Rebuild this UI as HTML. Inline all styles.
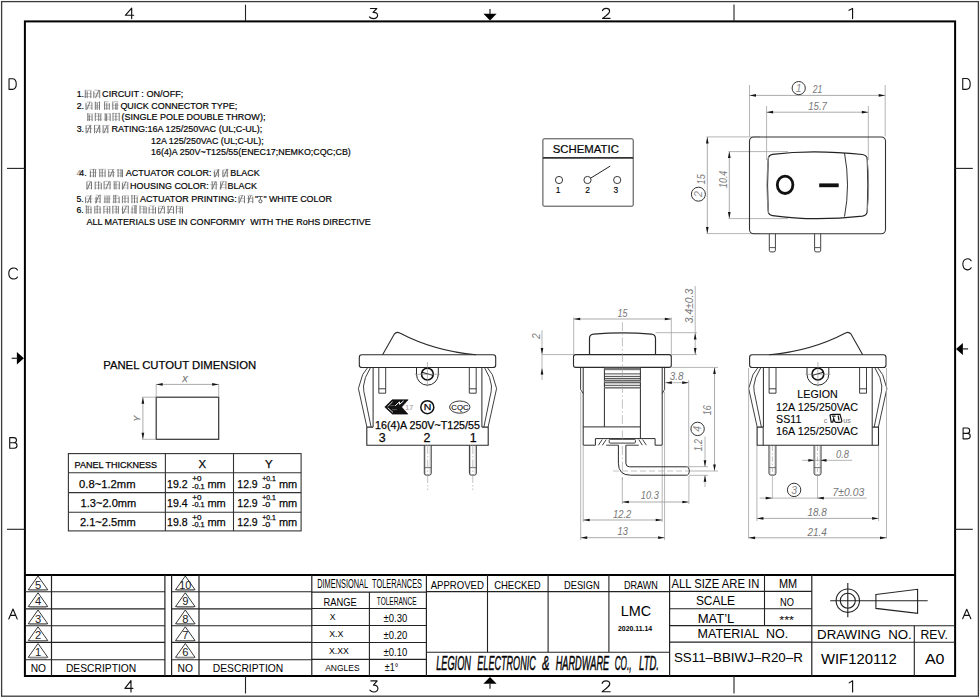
<!DOCTYPE html>
<html><head><meta charset="utf-8"><title>SS11 rocker switch drawing</title>
<style>
html,body{margin:0;padding:0;background:#fff;overflow:hidden;}
svg{display:block;}
text{font-family:"Liberation Sans",sans-serif;}
</style></head><body>
<svg width="980" height="698" viewBox="0 0 980 698">
<rect x="0" y="0" width="980" height="698" fill="#fff"/>
<rect x="1.6" y="1.6" width="976.8" height="694.6" rx="0" stroke="#3a3a3a" stroke-width="1.3" fill="none" />
<rect x="24.9" y="21.4" width="930.2" height="654.6" rx="0" stroke="#000" stroke-width="2.0" fill="none" />
<line x1="245.5" y1="4.6" x2="245.5" y2="21.4" stroke="#222" stroke-width="1.1" />
<line x1="245.5" y1="676" x2="245.5" y2="693.5" stroke="#222" stroke-width="1.1" />
<line x1="734.0" y1="4.6" x2="734.0" y2="21.4" stroke="#222" stroke-width="1.1" />
<line x1="734.0" y1="676" x2="734.0" y2="693.5" stroke="#222" stroke-width="1.1" />
<line x1="7" y1="168.4" x2="24.9" y2="168.4" stroke="#222" stroke-width="1.1" />
<line x1="955.1" y1="168.4" x2="972.8" y2="168.4" stroke="#222" stroke-width="1.1" />
<line x1="7" y1="529.3" x2="24.9" y2="529.3" stroke="#222" stroke-width="1.1" />
<line x1="955.1" y1="529.3" x2="972.8" y2="529.3" stroke="#222" stroke-width="1.1" />
<path d="M483.4 13.7H496.6L490 20.6Z" fill="#000"/>
<line x1="490" y1="9" x2="490" y2="14" stroke="#333" stroke-width="1.3" />
<path d="M483.4 683.8H496.6L490 677.1Z" fill="#000"/>
<line x1="490" y1="683" x2="490" y2="688.7" stroke="#333" stroke-width="1.3" />
<path d="M16.9 352H16.9L23.9 358.3L16.9 364.6Z" fill="#000"/>
<line x1="11.7" y1="358.3" x2="17.5" y2="358.3" stroke="#333" stroke-width="1.3" />
<path d="M962.9 342.9L956 348.9L962.9 354.9Z" fill="#000"/>
<line x1="962.5" y1="348.9" x2="968.1" y2="348.9" stroke="#333" stroke-width="1.3" />
<path d="M131.68 8.20L125.30 15.27H133.70M131.68 8.20V18.60" stroke="#111" stroke-width="1.15" fill="none" stroke-linecap="round" stroke-linejoin="round"/>
<path d="M370.43 8.51H376.80L373.01 12.36C379.03 11.74 379.03 18.60 373.53 18.60Q370.69 18.60 369.40 16.94" stroke="#111" stroke-width="1.15" fill="none" stroke-linecap="round" stroke-linejoin="round"/>
<path d="M602.53 10.70C603.22 7.78 609.46 7.47 609.62 11.11C609.69 12.88 608.31 14.02 602.53 18.39H610.00" stroke="#111" stroke-width="1.15" fill="none" stroke-linecap="round" stroke-linejoin="round"/>
<path d="M849.00 10.28L852.57 8.41V18.60" stroke="#111" stroke-width="1.15" fill="none" stroke-linecap="round" stroke-linejoin="round"/>
<path d="M130.98 680.60L124.90 688.35H132.90M130.98 680.60V692.00" stroke="#111" stroke-width="1.15" fill="none" stroke-linecap="round" stroke-linejoin="round"/>
<path d="M370.91 680.94H377.12L373.43 685.16C379.31 684.48 379.31 692.00 373.93 692.00Q371.16 692.00 369.90 690.18" stroke="#111" stroke-width="1.15" fill="none" stroke-linecap="round" stroke-linejoin="round"/>
<path d="M602.15 683.34C602.90 680.14 609.62 679.80 609.78 683.79C609.87 685.73 608.37 686.98 602.15 691.77H610.20" stroke="#111" stroke-width="1.15" fill="none" stroke-linecap="round" stroke-linejoin="round"/>
<path d="M849.20 682.88L852.60 680.83V692.00" stroke="#111" stroke-width="1.15" fill="none" stroke-linecap="round" stroke-linejoin="round"/>
<path d="M9.04 78.82V89.38H12.30C17.58 89.38 17.58 78.82 12.30 78.82Z" stroke="#111" stroke-width="1.1" fill="none" stroke-linecap="round" stroke-linejoin="round"/>
<path d="M17.52 270.02C15.94 267.00 8.69 266.89 8.78 273.50C8.87 280.11 15.94 280.00 17.52 276.98" stroke="#111" stroke-width="1.1" fill="none" stroke-linecap="round" stroke-linejoin="round"/>
<path d="M9.71 437.62V448.18H14.22C17.91 448.18 17.91 442.79 14.22 442.79H9.71M13.81 442.79C17.34 442.79 17.34 437.62 13.81 437.62H9.71" stroke="#111" stroke-width="1.1" fill="none" stroke-linecap="round" stroke-linejoin="round"/>
<path d="M8.77 618.98L13.00 609.02L17.23 618.98M10.48 615.38H15.52" stroke="#111" stroke-width="1.1" fill="none" stroke-linecap="round" stroke-linejoin="round"/>
<path d="M962.75 78.53V89.37H966.12C971.58 89.37 971.58 78.53 966.12 78.53Z" stroke="#111" stroke-width="1.1" fill="none" stroke-linecap="round" stroke-linejoin="round"/>
<path d="M971.14 260.82C969.64 257.80 962.78 257.69 962.86 264.30C962.95 270.91 969.64 270.80 971.14 267.78" stroke="#111" stroke-width="1.1" fill="none" stroke-linecap="round" stroke-linejoin="round"/>
<path d="M963.10 428.03V438.87H967.50C971.10 438.87 971.10 433.34 967.50 433.34H963.10M967.10 433.34C970.54 433.34 970.54 428.03 967.10 428.03H963.10" stroke="#111" stroke-width="1.1" fill="none" stroke-linecap="round" stroke-linejoin="round"/>
<path d="M962.66 618.79L966.75 609.21L970.84 618.79M964.31 615.33H969.19" stroke="#111" stroke-width="1.1" fill="none" stroke-linecap="round" stroke-linejoin="round"/>
<text x="76.7" y="97.3" font-size="8.8" stroke="#111" stroke-width="0.2" >1.</text>
<path d="M84.8 90.3H91.7M85.2 93.7H91.5M84.0 96.6H91.6" stroke="#9a9a9a" stroke-width="0.6" fill="none" />
<path d="M85.3 90.3V98.1M87.2 91.3V98.1M90.8 90.9V98.1" stroke="#707070" stroke-width="0.95" fill="none" />
<path d="M94.2 90.2H99.4M93.5 93.7H99.2M94.1 96.1H99.5" stroke="#9a9a9a" stroke-width="0.6" fill="none" />
<path d="M93.8 91.3V98.1M98.8 90.2L95.5 98.1M99.7 90.0V98.1" stroke="#707070" stroke-width="0.95" fill="none" />
<text x="102.1" y="97.3" font-size="8.8" stroke="#111" stroke-width="0.2" textLength="81.2" lengthAdjust="spacingAndGlyphs" >CIRCUIT : ON/OFF;</text>
<text x="76.7" y="109" font-size="8.8" stroke="#111" stroke-width="0.2" >2.</text>
<path d="M86.8 102.0H91.6M85.9 105.7H91.5M86.7 108.0H91.7" stroke="#9a9a9a" stroke-width="0.6" fill="none" />
<path d="M86.0 102.8V109.8M90.0 101.9L86.7 109.8M91.9 102.5V109.8" stroke="#707070" stroke-width="0.95" fill="none" />
<path d="M94.9 102.5H99.9M94.9 105.7H99.9M94.9 107.8H99.9" stroke="#9a9a9a" stroke-width="0.6" fill="none" />
<path d="M95.3 101.7V109.8M97.2 102.9V109.8M99.5 101.5V109.8" stroke="#707070" stroke-width="0.95" fill="none" />
<path d="M104.0 101.7H108.7M103.7 105.1H109.8M104.3 108.3H108.8" stroke="#9a9a9a" stroke-width="0.6" fill="none" />
<path d="M104.6 101.8V109.8M106.8 102.9V109.8M109.3 103.2V109.8" stroke="#707070" stroke-width="0.95" fill="none" />
<path d="M112.1 101.7H118.3M111.7 105.2H119.2M112.9 108.2H118.2" stroke="#9a9a9a" stroke-width="0.6" fill="none" />
<path d="M112.8 102.2V109.8M115.8 103.2V109.8M117.1 102.6V109.8" stroke="#707070" stroke-width="0.95" fill="none" />
<text x="120.4" y="109" font-size="8.8" stroke="#111" stroke-width="0.2" textLength="116.9" lengthAdjust="spacingAndGlyphs" >QUICK CONNECTOR TYPE;</text>
<path d="M87.1 113.9H93.3M87.5 116.7H91.9M87.3 119.4H92.1" stroke="#9a9a9a" stroke-width="0.6" fill="none" />
<path d="M87.8 113.2V121.1M89.3 114.6V121.1M92.1 114.4V121.1" stroke="#707070" stroke-width="0.95" fill="none" />
<path d="M95.1 113.7H102.2M94.7 116.2H101.0M96.1 119.4H101.8" stroke="#9a9a9a" stroke-width="0.6" fill="none" />
<path d="M95.3 112.8V121.1M98.7 113.6V121.1M100.8 114.1V121.1" stroke="#707070" stroke-width="0.95" fill="none" />
<path d="M104.4 113.9H110.2M105.2 117.0H109.7M103.6 119.2H110.2" stroke="#9a9a9a" stroke-width="0.6" fill="none" />
<path d="M105.2 113.4V121.1M106.6 114.0V121.1M110.2 113.5V121.1" stroke="#707070" stroke-width="0.95" fill="none" />
<path d="M112.6 113.4H119.6M113.9 116.4H118.4M113.7 119.3H118.2" stroke="#9a9a9a" stroke-width="0.6" fill="none" />
<path d="M113.0 112.9V121.1M115.9 113.2V121.1M119.2 112.9V121.1" stroke="#707070" stroke-width="0.95" fill="none" />
<text x="121.4" y="120.3" font-size="8.8" stroke="#111" stroke-width="0.2" textLength="144" lengthAdjust="spacingAndGlyphs" >(SINGLE POLE DOUBLE THROW);</text>
<text x="76.7" y="132.4" font-size="8.8" stroke="#111" stroke-width="0.2" >3.</text>
<path d="M87.0 125.3H91.7M85.4 128.5H92.4M86.4 131.7H91.1" stroke="#9a9a9a" stroke-width="0.6" fill="none" />
<path d="M86.1 125.3V133.2M90.1 125.3L86.8 133.2M90.6 125.3V133.2" stroke="#707070" stroke-width="0.95" fill="none" />
<path d="M94.5 125.3H99.6M93.9 128.9H100.7M94.9 131.3H101.1" stroke="#9a9a9a" stroke-width="0.6" fill="none" />
<path d="M94.5 125.1V133.2M99.5 125.3L96.2 133.2M99.7 125.0V133.2" stroke="#707070" stroke-width="0.95" fill="none" />
<path d="M104.0 125.6H109.6M103.8 128.8H108.6M103.6 131.9H108.8" stroke="#9a9a9a" stroke-width="0.6" fill="none" />
<path d="M103.1 125.1V133.2M107.2 125.3L103.9 133.2M107.8 126.2V133.2" stroke="#707070" stroke-width="0.95" fill="none" />
<text x="111.6" y="132.4" font-size="8.8" stroke="#111" stroke-width="0.2" textLength="150.7" lengthAdjust="spacingAndGlyphs" >RATING:16A 125/250VAC (UL;C-UL);</text>
<text x="151.1" y="143.8" font-size="8.8" stroke="#111" stroke-width="0.2" textLength="112.5" lengthAdjust="spacingAndGlyphs" >12A 125/250VAC (UL;C-UL);</text>
<text x="151.1" y="154.8" font-size="8.8" stroke="#111" stroke-width="0.2" textLength="199.7" lengthAdjust="spacingAndGlyphs" >16(4)A 250V~T125/55(ENEC17;NEMKO;CQC;CB)</text>
<text x="76.4" y="176.4" font-size="8.8" stroke="#999" stroke-width="0.2" fill="#999" >4</text>
<text x="79.3" y="176.4" font-size="8.8" stroke="#111" stroke-width="0.2" >4.</text>
<path d="M89.5 169.4H96.6M90.0 172.5H96.6M89.4 176.0H95.8" stroke="#9a9a9a" stroke-width="0.6" fill="none" />
<path d="M90.4 170.5V177.2M93.4 168.9V177.2M95.4 169.4V177.2" stroke="#707070" stroke-width="0.95" fill="none" />
<path d="M98.3 169.3H106.1M99.4 172.8H105.3M99.5 175.8H105.4" stroke="#9a9a9a" stroke-width="0.6" fill="none" />
<path d="M99.8 169.3V177.2M102.2 169.1V177.2M105.1 170.1V177.2" stroke="#707070" stroke-width="0.95" fill="none" />
<path d="M107.4 169.5H114.4M108.6 172.5H115.0M108.8 175.1H114.6" stroke="#9a9a9a" stroke-width="0.6" fill="none" />
<path d="M108.7 170.3V177.2M113.1 169.3L109.8 177.2M113.3 170.8V177.2" stroke="#707070" stroke-width="0.95" fill="none" />
<path d="M116.6 170.0H122.8M117.7 173.1H122.7M117.2 175.8H123.0" stroke="#9a9a9a" stroke-width="0.6" fill="none" />
<path d="M118.1 169.0V177.2M121.0 169.2V177.2M122.5 169.7V177.2" stroke="#707070" stroke-width="0.95" fill="none" />
<text x="125.7" y="176.4" font-size="8.8" stroke="#111" stroke-width="0.2" textLength="85.9" lengthAdjust="spacingAndGlyphs" >ACTUATOR COLOR:</text>
<path d="M213.8 170.0H220.1M213.0 172.8H219.1M213.8 175.1H219.7" stroke="#9a9a9a" stroke-width="0.6" fill="none" />
<path d="M214.4 170.8V177.2M218.4 169.3L215.1 177.2M218.4 169.6V177.2" stroke="#707070" stroke-width="0.95" fill="none" />
<path d="M223.3 169.9H228.7M222.0 173.0H228.5M222.9 175.8H228.3" stroke="#9a9a9a" stroke-width="0.6" fill="none" />
<path d="M222.9 169.8V177.2M226.9 169.3L223.6 177.2M227.3 168.8V177.2" stroke="#707070" stroke-width="0.95" fill="none" />
<text x="230.3" y="176.4" font-size="8.8" stroke="#111" stroke-width="0.2" textLength="29.4" lengthAdjust="spacingAndGlyphs" >BLACK</text>
<path d="M87.1 181.3H91.9M87.3 185.2H92.2M86.4 188.1H91.8" stroke="#9a9a9a" stroke-width="0.6" fill="none" />
<path d="M86.9 181.6V189.4M90.6 181.5L87.3 189.4M91.5 182.0V189.4" stroke="#707070" stroke-width="0.95" fill="none" />
<path d="M94.8 182.2H100.9M95.4 185.1H101.4M94.5 188.1H101.7" stroke="#9a9a9a" stroke-width="0.6" fill="none" />
<path d="M95.2 181.7V189.4M98.6 181.4V189.4M101.3 182.8V189.4" stroke="#707070" stroke-width="0.95" fill="none" />
<path d="M103.9 181.4H109.9M104.6 184.7H110.7M104.4 188.0H109.9" stroke="#9a9a9a" stroke-width="0.6" fill="none" />
<path d="M104.1 181.3V189.4M109.1 181.5L105.8 189.4M110.1 181.2V189.4" stroke="#707070" stroke-width="0.95" fill="none" />
<path d="M113.4 181.4H119.0M113.4 184.9H119.7M114.0 188.1H119.7" stroke="#9a9a9a" stroke-width="0.6" fill="none" />
<path d="M114.2 181.5V189.4M116.0 181.7V189.4M119.3 181.6V189.4" stroke="#707070" stroke-width="0.95" fill="none" />
<path d="M122.3 182.1H127.1M122.5 185.1H127.3M121.8 187.9H127.2" stroke="#9a9a9a" stroke-width="0.6" fill="none" />
<path d="M122.4 182.8V189.4M125.9 181.5L122.6 189.4M127.8 182.1V189.4" stroke="#707070" stroke-width="0.95" fill="none" />
<text x="130" y="188.6" font-size="8.8" stroke="#111" stroke-width="0.2" textLength="78.8" lengthAdjust="spacingAndGlyphs" >HOUSING COLOR:</text>
<path d="M211.0 181.8H216.4M210.1 184.7H217.6M211.1 188.0H216.6" stroke="#9a9a9a" stroke-width="0.6" fill="none" />
<path d="M212.2 181.6V189.4M215.4 181.5L212.1 189.4M216.2 181.5V189.4" stroke="#707070" stroke-width="0.95" fill="none" />
<path d="M220.4 181.4H225.1M220.4 184.8H225.8M219.4 187.7H226.5" stroke="#9a9a9a" stroke-width="0.6" fill="none" />
<path d="M220.7 181.9V189.4M223.4 181.5L220.1 189.4M225.9 181.1V189.4" stroke="#707070" stroke-width="0.95" fill="none" />
<text x="227.6" y="188.6" font-size="8.8" stroke="#111" stroke-width="0.2" textLength="29.3" lengthAdjust="spacingAndGlyphs" >BLACK</text>
<text x="76.4" y="202.4" font-size="8.8" stroke="#111" stroke-width="0.2" >5.</text>
<path d="M86.0 196.0H92.3M86.4 198.9H92.6M86.0 201.6H92.0" stroke="#9a9a9a" stroke-width="0.6" fill="none" />
<path d="M85.6 196.7V203.2M90.8 195.3L87.5 203.2M90.6 195.9V203.2" stroke="#707070" stroke-width="0.95" fill="none" />
<path d="M95.7 195.2H101.3M94.3 198.8H100.5M94.8 201.7H100.6" stroke="#9a9a9a" stroke-width="0.6" fill="none" />
<path d="M96.1 196.6V203.2M98.9 195.3L95.6 203.2M100.1 194.9V203.2" stroke="#707070" stroke-width="0.95" fill="none" />
<path d="M103.9 195.8H110.8M104.3 198.8H111.0M103.5 201.9H110.3" stroke="#9a9a9a" stroke-width="0.6" fill="none" />
<path d="M104.9 196.4V203.2M107.1 196.3V203.2M109.1 196.0V203.2" stroke="#707070" stroke-width="0.95" fill="none" />
<path d="M112.9 195.9H118.6M113.5 198.4H118.8M112.3 202.0H120.1" stroke="#9a9a9a" stroke-width="0.6" fill="none" />
<path d="M113.8 195.0V203.2M115.7 194.8V203.2M119.1 196.5V203.2" stroke="#707070" stroke-width="0.95" fill="none" />
<path d="M122.3 195.8H129.2M122.3 198.3H128.3M123.1 201.7H127.9" stroke="#9a9a9a" stroke-width="0.6" fill="none" />
<path d="M122.4 196.0V203.2M125.0 195.8V203.2M128.2 196.5V203.2" stroke="#707070" stroke-width="0.95" fill="none" />
<path d="M131.0 195.8H138.6M132.1 198.3H137.0M132.0 201.9H137.8" stroke="#9a9a9a" stroke-width="0.6" fill="none" />
<path d="M131.9 195.0V203.2M134.5 195.3V203.2M137.2 196.8V203.2" stroke="#707070" stroke-width="0.95" fill="none" />
<text x="140" y="202.4" font-size="8.8" stroke="#111" stroke-width="0.2" textLength="96.7" lengthAdjust="spacingAndGlyphs" >ACTUATOR PRINTING:</text>
<path d="M239.5 195.5H243.7M238.4 198.4H244.1M239.8 201.2H244.4" stroke="#9a9a9a" stroke-width="0.6" fill="none" />
<path d="M239.0 196.2V203.2M242.5 195.3L239.2 203.2M244.5 195.8V203.2" stroke="#707070" stroke-width="0.95" fill="none" />
<path d="M247.2 195.3H252.9M246.8 198.4H252.5M248.2 201.5H253.1" stroke="#9a9a9a" stroke-width="0.6" fill="none" />
<path d="M248.6 196.0V203.2M251.1 195.3L247.8 203.2M252.8 196.6V203.2" stroke="#707070" stroke-width="0.95" fill="none" />
<text x="255.1" y="202.4" font-size="8.8" stroke="#111" stroke-width="0.2" >"</text>
<text x="263.5" y="202.4" font-size="8.8" stroke="#111" stroke-width="0.2" >"</text>
<text x="268.9" y="202.4" font-size="8.8" stroke="#111" stroke-width="0.2" textLength="63" lengthAdjust="spacingAndGlyphs" >WHITE COLOR</text>
<path d="M258.2 196.5h4.5M260.4 196.5v2.5M260.4 201.2m-1.6 0a1.6 1.6 0 1 0 3.2 0a1.6 1.6 0 1 0 -3.2 0" stroke="#333" stroke-width="0.8" fill="none" />
<text x="76.4" y="212.9" font-size="8.8" stroke="#111" stroke-width="0.2" >6.</text>
<path d="M85.5 206.2H91.4M86.3 209.6H91.9M86.3 212.3H92.0" stroke="#9a9a9a" stroke-width="0.6" fill="none" />
<path d="M86.3 205.4V213.7M88.2 206.1V213.7M91.0 206.9V213.7" stroke="#707070" stroke-width="0.95" fill="none" />
<path d="M95.4 206.4H100.3M94.5 209.3H101.4M95.4 212.2H101.1" stroke="#9a9a9a" stroke-width="0.6" fill="none" />
<path d="M94.8 206.2V213.7M97.2 205.4V213.7M100.1 206.8V213.7" stroke="#707070" stroke-width="0.95" fill="none" />
<path d="M103.7 206.3H109.4M104.7 209.3H110.4M104.0 211.7H109.2" stroke="#9a9a9a" stroke-width="0.6" fill="none" />
<path d="M103.9 206.0V213.7M107.3 207.2V213.7M109.8 206.0V213.7" stroke="#707070" stroke-width="0.95" fill="none" />
<path d="M112.6 206.2H119.2M113.8 209.1H118.9M113.4 212.0H118.2" stroke="#9a9a9a" stroke-width="0.6" fill="none" />
<path d="M112.8 205.8V213.7M116.2 206.0V213.7M118.4 206.4V213.7" stroke="#707070" stroke-width="0.95" fill="none" />
<path d="M122.3 206.0H128.7M121.3 209.2H127.4M122.5 212.0H127.5" stroke="#9a9a9a" stroke-width="0.6" fill="none" />
<path d="M122.5 206.5V213.7M126.5 205.8L123.2 213.7M128.3 205.7V213.7" stroke="#707070" stroke-width="0.95" fill="none" />
<path d="M131.8 205.8H137.3M131.5 209.1H136.4M130.3 212.2H136.3" stroke="#9a9a9a" stroke-width="0.6" fill="none" />
<path d="M132.1 206.6V213.7M134.9 205.4V213.7M136.1 205.4V213.7" stroke="#707070" stroke-width="0.95" fill="none" />
<path d="M140.2 206.4H146.5M140.5 209.0H147.2M140.7 212.1H147.1" stroke="#9a9a9a" stroke-width="0.6" fill="none" />
<path d="M140.0 205.6V213.7M143.9 206.3V213.7M146.2 206.9V213.7" stroke="#707070" stroke-width="0.95" fill="none" />
<path d="M149.3 205.9H154.6M148.7 209.3H155.3M149.8 212.6H155.1" stroke="#9a9a9a" stroke-width="0.6" fill="none" />
<path d="M149.1 206.9V213.7M153.0 206.1V213.7M155.5 207.1V213.7" stroke="#707070" stroke-width="0.95" fill="none" />
<path d="M158.0 206.3H164.7M158.9 208.6H164.1M158.8 212.6H164.0" stroke="#9a9a9a" stroke-width="0.6" fill="none" />
<path d="M158.6 207.3V213.7M163.1 205.8L159.8 213.7M164.4 206.7V213.7" stroke="#707070" stroke-width="0.95" fill="none" />
<path d="M166.8 206.6H173.8M167.6 209.5H173.9M166.6 212.5H174.5" stroke="#9a9a9a" stroke-width="0.6" fill="none" />
<path d="M168.1 205.7V213.7M171.8 205.8L168.5 213.7M173.5 206.8V213.7" stroke="#707070" stroke-width="0.95" fill="none" />
<path d="M176.7 206.4H183.2M176.4 208.7H182.0M177.5 211.6H183.0" stroke="#9a9a9a" stroke-width="0.6" fill="none" />
<path d="M176.4 205.7V213.7M180.2 206.7V213.7M182.5 207.2V213.7" stroke="#707070" stroke-width="0.95" fill="none" />
<text x="86.4" y="224.6" font-size="8.8" stroke="#111" stroke-width="0.2" textLength="284.4" lengthAdjust="spacingAndGlyphs" >ALL MATERIALS USE IN CONFORMIY  WITH THE RoHS DIRECTIVE</text>
<rect x="542.9" y="138.8" width="90.3" height="67.4" rx="1" stroke="#444" stroke-width="1.0" fill="none" />
<line x1="542.9" y1="157.9" x2="633.2" y2="157.9" stroke="#333" stroke-width="1.6" />
<text x="585.8" y="153.3" font-size="10.9" stroke="#111" stroke-width="0.2" textLength="66.1" lengthAdjust="spacingAndGlyphs" text-anchor="middle" >SCHEMATIC</text>
<circle cx="559" cy="180" r="3.6" stroke="#222" stroke-width="0.9" fill="none"/>
<circle cx="587.5" cy="180" r="3.6" stroke="#222" stroke-width="0.9" fill="none"/>
<circle cx="617.2" cy="180" r="3.6" stroke="#222" stroke-width="0.9" fill="none"/>
<line x1="590.6" y1="178.2" x2="610.2" y2="166.1" stroke="#222" stroke-width="1.0" />
<text x="558.0" y="192.6" font-size="8.4" stroke="#111" stroke-width="0.15" text-anchor="middle" >1</text>
<text x="587.6" y="192.6" font-size="8.4" stroke="#111" stroke-width="0.15" text-anchor="middle" >2</text>
<text x="615.9" y="192.6" font-size="8.4" stroke="#111" stroke-width="0.15" text-anchor="middle" >3</text>
<line x1="749.5" y1="85" x2="749.5" y2="136.5" stroke="#a2a2a2" stroke-width="0.8" />
<line x1="885.2" y1="85" x2="885.2" y2="136.5" stroke="#a2a2a2" stroke-width="0.8" />
<line x1="766.6" y1="106" x2="766.6" y2="160" stroke="#a2a2a2" stroke-width="0.8" />
<line x1="868.3" y1="106" x2="868.3" y2="160" stroke="#a2a2a2" stroke-width="0.8" />
<line x1="706.6" y1="136.9" x2="760" y2="136.9" stroke="#a2a2a2" stroke-width="0.8" />
<line x1="706.6" y1="233.6" x2="760" y2="233.6" stroke="#a2a2a2" stroke-width="0.8" />
<line x1="728.6" y1="151.6" x2="788" y2="151.6" stroke="#a2a2a2" stroke-width="0.8" />
<line x1="728.6" y1="218.6" x2="788" y2="218.6" stroke="#a2a2a2" stroke-width="0.8" />
<line x1="749.5" y1="95.4" x2="885.2" y2="95.4" stroke="#a2a2a2" stroke-width="0.9" />
<path d="M749.50 95.40L756.00 94.05L756.00 96.75Z" fill="#151515"/>
<path d="M885.20 95.40L878.70 96.75L878.70 94.05Z" fill="#151515"/>
<line x1="766.6" y1="112.2" x2="868.3" y2="112.2" stroke="#a2a2a2" stroke-width="0.9" />
<path d="M766.60 112.20L773.10 110.85L773.10 113.55Z" fill="#151515"/>
<path d="M868.30 112.20L861.80 113.55L861.80 110.85Z" fill="#151515"/>
<line x1="707.3" y1="136.9" x2="707.3" y2="233.6" stroke="#a2a2a2" stroke-width="0.9" />
<path d="M707.30 136.90L708.65 143.40L705.95 143.40Z" fill="#151515"/>
<path d="M707.30 233.60L705.95 227.10L708.65 227.10Z" fill="#151515"/>
<line x1="729.3" y1="151.6" x2="729.3" y2="218.6" stroke="#a2a2a2" stroke-width="0.9" />
<path d="M729.30 151.60L730.65 158.10L727.95 158.10Z" fill="#151515"/>
<path d="M729.30 218.60L727.95 212.10L730.65 212.10Z" fill="#151515"/>
<circle cx="798.7" cy="88.1" r="6.6" stroke="#333" stroke-width="1.0" fill="none"/>
<text x="798.7" y="91.8" font-size="10.5" text-anchor="middle" fill="#8a8a8a" font-style="italic" >1</text>
<text x="812.8" y="92.7" font-size="10.4" textLength="9.6" lengthAdjust="spacingAndGlyphs" fill="#777777" font-style="italic" >21</text>
<text x="808.2" y="109.8" font-size="10.4" textLength="18.8" lengthAdjust="spacingAndGlyphs" fill="#777777" font-style="italic" >15.7</text>
<circle cx="698.4" cy="194.2" r="7.0" stroke="#333" stroke-width="1.0" fill="none"/>
<text x="702.0" y="194.2" font-size="10.5" text-anchor="middle" fill="#8a8a8a" font-style="italic" transform="rotate(-90 702.0 194.2)" >2</text>
<text x="704.8" y="184.4" font-size="10.4" textLength="10.1" lengthAdjust="spacingAndGlyphs" fill="#777777" font-style="italic" transform="rotate(-90 704.8 184.4)" >15</text>
<text x="726.7" y="187.9" font-size="10.4" textLength="17.2" lengthAdjust="spacingAndGlyphs" fill="#777777" font-style="italic" transform="rotate(-90 726.7 187.9)" >10.4</text>
<rect x="749.5" y="137.0" width="136" height="96.8" rx="4.3" stroke="#333" stroke-width="1.1" fill="none" />
<path d="M772.5 154.3Q812.7 149.2 862.5 154.5Q867 155.2 867.3 159.5Q868.5 185 867.3 211Q867 215.5 862.5 216.2Q812.7 221.5 772.5 215.6Q768.3 215 768.2 211Q766.8 185 768.2 159.5Q768.3 155 772.5 154.3Z" stroke="#222" stroke-width="1.2" fill="none" />
<path d="M768.6 157Q765.3 185 768.6 213M867 157Q870.2 185 867 213" stroke="#888" stroke-width="1.0" fill="none" />
<path d="M844.5 153Q850.5 185 844.5 216.6" stroke="#333" stroke-width="1.0" fill="none" />
<ellipse cx="785.1" cy="184.8" rx="7.8" ry="8.7" stroke="#111" stroke-width="2.8" fill="none"/>
<rect x="819.2" y="183.4" width="19.5" height="3.8" rx="0" stroke="none" stroke-width="0" fill="#111" />
<path d="M769.3 233.8V250.2Q769.3 251.9 770.8 251.9H773.9Q775.4 251.9 775.4 250.2V233.8" stroke="#444" stroke-width="1.0" fill="none" />
<line x1="769.3" y1="247.6" x2="775.4" y2="247.6" stroke="#555" stroke-width="1.0" />
<path d="M814.6 233.8V250.2Q814.6 251.9 816.1 251.9H819.2Q820.7 251.9 820.7 250.2V233.8" stroke="#444" stroke-width="1.0" fill="none" />
<line x1="814.6" y1="247.6" x2="820.7" y2="247.6" stroke="#555" stroke-width="1.0" />
<text x="179.7" y="368.5" font-size="11.2" stroke="#111" stroke-width="0.25" textLength="153" lengthAdjust="spacingAndGlyphs" text-anchor="middle" >PANEL CUTOUT DIMENSION</text>
<rect x="156.2" y="397.2" width="62.5" height="42.1" rx="0" stroke="#333" stroke-width="1.2" fill="none" />
<line x1="156.2" y1="384" x2="156.2" y2="397.2" stroke="#a2a2a2" stroke-width="0.8" />
<line x1="218.7" y1="384" x2="218.7" y2="397.2" stroke="#a2a2a2" stroke-width="0.8" />
<line x1="142" y1="397.2" x2="156.2" y2="397.2" stroke="#a2a2a2" stroke-width="0.8" />
<line x1="142" y1="439.3" x2="156.2" y2="439.3" stroke="#a2a2a2" stroke-width="0.8" />
<line x1="156.2" y1="384.4" x2="218.7" y2="384.4" stroke="#a2a2a2" stroke-width="0.9" />
<path d="M156.20 384.40L162.70 383.05L162.70 385.75Z" fill="#151515"/>
<path d="M218.70 384.40L212.20 385.75L212.20 383.05Z" fill="#151515"/>
<line x1="142.9" y1="397.2" x2="142.9" y2="439.3" stroke="#a2a2a2" stroke-width="0.9" />
<path d="M142.90 397.20L144.25 403.70L141.55 403.70Z" fill="#151515"/>
<path d="M142.90 439.30L141.55 432.80L144.25 432.80Z" fill="#151515"/>
<text x="184.8" y="381.8" font-size="8.6" stroke="#777777" stroke-width="0.25" text-anchor="middle" fill="#777777" font-style="italic" >X</text>
<text x="140.4" y="421.4" font-size="8.6" stroke="#777777" stroke-width="0.25" fill="#777777" font-style="italic" transform="rotate(-90 140.4 421.4)" >Y</text>
<rect x="68.4" y="453.6" width="232.7" height="77.3" rx="0" stroke="#333" stroke-width="1.1" fill="none" />
<line x1="165.4" y1="453.6" x2="165.4" y2="530.9" stroke="#333" stroke-width="1.1" />
<line x1="233.5" y1="453.6" x2="233.5" y2="530.9" stroke="#333" stroke-width="1.1" />
<line x1="68.4" y1="472.7" x2="301.1" y2="472.7" stroke="#333" stroke-width="1.1" />
<line x1="68.4" y1="492.6" x2="301.1" y2="492.6" stroke="#333" stroke-width="1.1" />
<line x1="68.4" y1="512.3" x2="301.1" y2="512.3" stroke="#333" stroke-width="1.1" />
<text x="115.8" y="468.4" font-size="8.6" stroke="#111" stroke-width="0.25" textLength="82.5" lengthAdjust="spacingAndGlyphs" text-anchor="middle" >PANEL THICKNESS</text>
<text x="202.3" y="468.4" font-size="11.4" stroke="#111" stroke-width="0.25" text-anchor="middle" >X</text>
<text x="268.7" y="468.4" font-size="11.4" stroke="#111" stroke-width="0.25" text-anchor="middle" >Y</text>
<text x="79.1" y="488.0" font-size="11.4" stroke="#111" stroke-width="0.25" textLength="56.4" lengthAdjust="spacingAndGlyphs" >0.8~1.2mm</text>
<text x="167.1" y="488.0" font-size="11.4" stroke="#111" stroke-width="0.25" textLength="20.5" lengthAdjust="spacingAndGlyphs" >19.2</text>
<text x="192.3" y="481.4" font-size="7" stroke="#111" stroke-width="0.25" textLength="9.2" lengthAdjust="spacingAndGlyphs" >+0</text>
<text x="192.0" y="488.6" font-size="7" stroke="#111" stroke-width="0.25" textLength="12.6" lengthAdjust="spacingAndGlyphs" >-0.1</text>
<text x="207.4" y="488.0" font-size="11.4" stroke="#111" stroke-width="0.25" textLength="18.4" lengthAdjust="spacingAndGlyphs" >mm</text>
<text x="237.3" y="488.0" font-size="11.4" stroke="#111" stroke-width="0.25" textLength="20.4" lengthAdjust="spacingAndGlyphs" >12.9</text>
<text x="262.3" y="481.4" font-size="7" stroke="#111" stroke-width="0.25" textLength="13.5" lengthAdjust="spacingAndGlyphs" >+0.1</text>
<text x="262.3" y="488.6" font-size="7" stroke="#111" stroke-width="0.25" textLength="8" lengthAdjust="spacingAndGlyphs" >-0</text>
<text x="278.9" y="488.0" font-size="11.4" stroke="#111" stroke-width="0.25" textLength="18.3" lengthAdjust="spacingAndGlyphs" >mm</text>
<text x="80.6" y="506.6" font-size="11.4" stroke="#111" stroke-width="0.25" textLength="55.7" lengthAdjust="spacingAndGlyphs" >1.3~2.0mm</text>
<text x="167.1" y="506.6" font-size="11.4" stroke="#111" stroke-width="0.25" textLength="20.5" lengthAdjust="spacingAndGlyphs" >19.4</text>
<text x="192.3" y="500.0" font-size="7" stroke="#111" stroke-width="0.25" textLength="9.2" lengthAdjust="spacingAndGlyphs" >+0</text>
<text x="192.0" y="507.20000000000005" font-size="7" stroke="#111" stroke-width="0.25" textLength="12.6" lengthAdjust="spacingAndGlyphs" >-0.1</text>
<text x="207.4" y="506.6" font-size="11.4" stroke="#111" stroke-width="0.25" textLength="18.4" lengthAdjust="spacingAndGlyphs" >mm</text>
<text x="237.3" y="506.6" font-size="11.4" stroke="#111" stroke-width="0.25" textLength="20.4" lengthAdjust="spacingAndGlyphs" >12.9</text>
<text x="262.3" y="500.0" font-size="7" stroke="#111" stroke-width="0.25" textLength="13.5" lengthAdjust="spacingAndGlyphs" >+0.1</text>
<text x="262.3" y="507.20000000000005" font-size="7" stroke="#111" stroke-width="0.25" textLength="8" lengthAdjust="spacingAndGlyphs" >-0</text>
<text x="278.9" y="506.6" font-size="11.4" stroke="#111" stroke-width="0.25" textLength="18.3" lengthAdjust="spacingAndGlyphs" >mm</text>
<text x="79.9" y="526.2" font-size="11.4" stroke="#111" stroke-width="0.25" textLength="55.9" lengthAdjust="spacingAndGlyphs" >2.1~2.5mm</text>
<text x="167.1" y="526.2" font-size="11.4" stroke="#111" stroke-width="0.25" textLength="20.5" lengthAdjust="spacingAndGlyphs" >19.8</text>
<text x="192.3" y="519.6" font-size="7" stroke="#111" stroke-width="0.25" textLength="9.2" lengthAdjust="spacingAndGlyphs" >+0</text>
<text x="192.0" y="526.8000000000001" font-size="7" stroke="#111" stroke-width="0.25" textLength="12.6" lengthAdjust="spacingAndGlyphs" >-0.1</text>
<text x="207.4" y="526.2" font-size="11.4" stroke="#111" stroke-width="0.25" textLength="18.4" lengthAdjust="spacingAndGlyphs" >mm</text>
<text x="237.3" y="526.2" font-size="11.4" stroke="#111" stroke-width="0.25" textLength="20.4" lengthAdjust="spacingAndGlyphs" >12.9</text>
<text x="262.3" y="519.6" font-size="7" stroke="#111" stroke-width="0.25" textLength="13.5" lengthAdjust="spacingAndGlyphs" >+0.1</text>
<text x="262.3" y="526.8000000000001" font-size="7" stroke="#111" stroke-width="0.25" textLength="8" lengthAdjust="spacingAndGlyphs" >-0</text>
<text x="278.9" y="526.2" font-size="11.4" stroke="#111" stroke-width="0.25" textLength="18.3" lengthAdjust="spacingAndGlyphs" >mm</text>
<g><rect x="359.3" y="354.8" width="136.4" height="12.7" rx="2.6" stroke="#2a2a2a" stroke-width="1.1" fill="none"/>
<path d="M382.6 354.8L394.2 334.2Q396.6 331.2 399.8 333.0C414 340.5 440 351.5 476 354.8" stroke="#2a2a2a" stroke-width="1.1" fill="none"/>
<path d="M373.1 367.5V427.1M481.9 367.5V427.1" stroke="#2a2a2a" stroke-width="1" fill="none"/>
<path d="M366.8 427.1V445.3H488.2V427.1M366.8 427.1H373.1M481.9 427.1H488.2" stroke="#2a2a2a" stroke-width="1.1" fill="none"/>
<path d="M367.4 368L362.7 374.5L358.4 388.5L366.9 427.1M370.3 368Q364 378 363.5 386Q363.5 392 365 397L371.1 427.1" stroke="#2a2a2a" stroke-width="0.9" fill="none"/>
<path d="M487.6 368L492.3 374.5L496.6 388.5L488.1 427.1M484.7 368Q491 378 491.5 386Q491.5 392 490 397L483.9 427.1" stroke="#2a2a2a" stroke-width="0.9" fill="none"/>
<path d="M378.8 367.5V393.2H385.7V367.5M378.8 388.8H385.7" stroke="#2a2a2a" stroke-width="0.9" fill="none"/>
<path d="M469.3 367.5V393.2H476.2V367.5M469.3 388.8H476.2" stroke="#2a2a2a" stroke-width="0.9" fill="none"/>
<path d="M416.5 367.5V374.3A10.9 10.9 0 0 0 438.3 374.3V367.5" stroke="#2a2a2a" stroke-width="1" fill="none"/>
<circle cx="427.4" cy="374.1" r="5.9" stroke="#111" stroke-width="1.6" fill="none"/>
<path d="M422 372.3L433.1 375.4" stroke="#111" stroke-width="1.0"/>
<path d="M427.4 362V386.6M414.8 374.3H439.8" stroke="#888" stroke-width="0.6"/>
<path d="M424.3 445.3V473.2Q424.3 475.1 426.1 475.1H429.40000000000003Q431.2 475.1 431.2 473.2V445.3" stroke="#333" stroke-width="1.0" fill="none"/>
<path d="M425.40000000000003 445.5V474.2M430.1 445.5V474.2" stroke="#aaa" stroke-width="0.6" fill="none"/>
<path d="M424.3 467.6H431.2" stroke="#555" stroke-width="0.8" fill="none"/>
<path d="M469.4 445.3V473.2Q469.4 475.1 471.2 475.1H474.5Q476.29999999999995 475.1 476.29999999999995 473.2V445.3" stroke="#333" stroke-width="1.0" fill="none"/>
<path d="M470.5 445.5V474.2M475.2 445.5V474.2" stroke="#aaa" stroke-width="0.6" fill="none"/>
<path d="M469.4 467.6H476.29999999999995" stroke="#555" stroke-width="0.8" fill="none"/></g>
<g transform="matrix(-1 0 0 1 1245.3 0)"><rect x="359.3" y="354.8" width="136.4" height="12.7" rx="2.6" stroke="#2a2a2a" stroke-width="1.1" fill="none"/>
<path d="M382.6 354.8L394.2 334.2Q396.6 331.2 399.8 333.0C414 340.5 440 351.5 476 354.8" stroke="#2a2a2a" stroke-width="1.1" fill="none"/>
<path d="M373.1 367.5V427.1M481.9 367.5V427.1" stroke="#2a2a2a" stroke-width="1" fill="none"/>
<path d="M366.8 427.1V445.3H488.2V427.1M366.8 427.1H373.1M481.9 427.1H488.2" stroke="#2a2a2a" stroke-width="1.1" fill="none"/>
<path d="M367.4 368L362.7 374.5L358.4 388.5L366.9 427.1M370.3 368Q364 378 363.5 386Q363.5 392 365 397L371.1 427.1" stroke="#2a2a2a" stroke-width="0.9" fill="none"/>
<path d="M487.6 368L492.3 374.5L496.6 388.5L488.1 427.1M484.7 368Q491 378 491.5 386Q491.5 392 490 397L483.9 427.1" stroke="#2a2a2a" stroke-width="0.9" fill="none"/>
<path d="M378.8 367.5V393.2H385.7V367.5M378.8 388.8H385.7" stroke="#2a2a2a" stroke-width="0.9" fill="none"/>
<path d="M469.3 367.5V393.2H476.2V367.5M469.3 388.8H476.2" stroke="#2a2a2a" stroke-width="0.9" fill="none"/>
<path d="M416.5 367.5V374.3A10.9 10.9 0 0 0 438.3 374.3V367.5" stroke="#2a2a2a" stroke-width="1" fill="none"/>
<circle cx="427.4" cy="374.1" r="5.9" stroke="#111" stroke-width="1.6" fill="none"/>
<path d="M422 372.3L433.1 375.4" stroke="#111" stroke-width="1.0"/>
<path d="M427.4 362V386.6M414.8 374.3H439.8" stroke="#888" stroke-width="0.6"/>
<path d="M424.3 445.3V473.2Q424.3 475.1 426.1 475.1H429.40000000000003Q431.2 475.1 431.2 473.2V445.3" stroke="#333" stroke-width="1.0" fill="none"/>
<path d="M425.40000000000003 445.5V474.2M430.1 445.5V474.2" stroke="#aaa" stroke-width="0.6" fill="none"/>
<path d="M424.3 467.6H431.2" stroke="#555" stroke-width="0.8" fill="none"/>
<path d="M469.4 445.3V473.2Q469.4 475.1 471.2 475.1H474.5Q476.29999999999995 475.1 476.29999999999995 473.2V445.3" stroke="#333" stroke-width="1.0" fill="none"/>
<path d="M470.5 445.5V474.2M475.2 445.5V474.2" stroke="#aaa" stroke-width="0.6" fill="none"/>
<path d="M469.4 467.6H476.29999999999995" stroke="#555" stroke-width="0.8" fill="none"/></g>
<line x1="763.2" y1="427.1" x2="763.2" y2="445.3" stroke="#2a2a2a" stroke-width="1" />
<line x1="872.2" y1="427.1" x2="872.2" y2="445.3" stroke="#2a2a2a" stroke-width="1" />
<path d="M427.7 445V490M472.8 445V490" stroke="#999" stroke-width="0.6" stroke-dasharray="9 2 1.5 2" fill="none"/>
<path d="M384.8 407.1L392.1 399.8H408.1L401.6 407.1L407.8 414.1H392.4Z" stroke="#111" stroke-width="0.7" fill="#111" />
<path d="M387.6 406.6L392.6 401.8M387.8 407.8L393 412.4" stroke="#fff" stroke-width="0.8" fill="none" />
<path d="M395.2 405.8L399.4 401.9L399.6 404.3L403.6 400.9" stroke="#fff" stroke-width="1.0" fill="none" />
<path d="M390.2 405.6H394.6M392 409.6H397" stroke="#888" stroke-width="0.6" fill="none" />
<text x="405.3" y="410.3" font-size="7.2" stroke="#aaa" stroke-width="0.2" fill="#aaa" >17</text>
<circle cx="427.3" cy="407.2" r="6.5" stroke="#111" stroke-width="1.5" fill="none"/>
<text x="427.5" y="410.1" font-size="9" stroke="#111" stroke-width="0.25" textLength="7.6" lengthAdjust="spacingAndGlyphs" text-anchor="middle" >N</text>
<ellipse cx="459.8" cy="407.1" rx="10.2" ry="6.1" stroke="#222" stroke-width="0.9" fill="none"/>
<text x="459.95" y="409.6" font-size="6.8" stroke="#111" stroke-width="0.1" textLength="17.2" lengthAdjust="spacingAndGlyphs" text-anchor="middle" >CQC</text>
<text x="375.1" y="429.3" font-size="10.3" stroke="#111" stroke-width="0.25" textLength="104.8" lengthAdjust="spacingAndGlyphs" >16(4)A 250V~T125/55</text>
<text x="382.2" y="441.9" font-size="12.4" stroke="#111" stroke-width="0.25" text-anchor="middle" >3</text>
<text x="426.9" y="441.9" font-size="12.4" stroke="#111" stroke-width="0.25" text-anchor="middle" >2</text>
<text x="473.3" y="441.9" font-size="12.4" stroke="#111" stroke-width="0.25" text-anchor="middle" >1</text>
<text x="817.6" y="398.3" font-size="10.6" stroke="#111" stroke-width="0.1" textLength="40.5" lengthAdjust="spacingAndGlyphs" text-anchor="middle" >LEGION</text>
<text x="776.1" y="410.5" font-size="10.6" stroke="#111" stroke-width="0.1" textLength="82" lengthAdjust="spacingAndGlyphs" >12A 125/250VAC</text>
<text x="776.1" y="422.8" font-size="10.6" stroke="#111" stroke-width="0.1" textLength="25.2" lengthAdjust="spacingAndGlyphs" >SS11</text>
<text x="776.1" y="435" font-size="10.6" stroke="#111" stroke-width="0.1" textLength="82" lengthAdjust="spacingAndGlyphs" >16A 125/250VAC</text>
<text x="823.8" y="422.5" font-size="7" fill="#777" >c</text>
<text x="843.3" y="422.5" font-size="6.6" textLength="7.6" lengthAdjust="spacingAndGlyphs" fill="#777" >us</text>
<path d="M830 415.2Q831 414 834 414.4H840L841.8 420.5Q842 422.4 840 422.4H836.3Q834.8 422.4 834.4 420.8L833.7 418.4L832.8 422.2H831.2Z" stroke="#111" stroke-width="1.2" fill="none" />
<path d="M832 416.2H835.5M838.2 415.6L839 420.4" stroke="#222" stroke-width="1.3" fill="none" />
<line x1="772.4" y1="475" x2="772.4" y2="499" stroke="#a2a2a2" stroke-width="0.7" />
<line x1="817.5" y1="475" x2="817.5" y2="499" stroke="#a2a2a2" stroke-width="0.7" />
<path d="M772.4 446V475M817.5 446V475" stroke="#999" stroke-width="0.6" fill="none" stroke-dasharray="5 2 1.5 2"/>
<line x1="802.3" y1="460.3" x2="852.2" y2="460.3" stroke="#a2a2a2" stroke-width="0.8" />
<path d="M814.80 460.30L808.30 461.65L808.30 458.95Z" fill="#151515"/>
<path d="M820.00 460.30L826.50 458.95L826.50 461.65Z" fill="#151515"/>
<text x="836" y="457.8" font-size="10.4" textLength="13.1" lengthAdjust="spacingAndGlyphs" fill="#777777" font-style="italic" >0.8</text>
<line x1="759.7" y1="498.1" x2="866.8" y2="498.1" stroke="#a2a2a2" stroke-width="0.8" />
<path d="M772.20 498.10L765.70 499.45L765.70 496.75Z" fill="#151515"/>
<path d="M817.30 498.10L823.80 496.75L823.80 499.45Z" fill="#151515"/>
<text x="832.5" y="496" font-size="10.4" textLength="31.8" lengthAdjust="spacingAndGlyphs" fill="#777777" font-style="italic" >7±0.03</text>
<circle cx="794.1" cy="489.9" r="6.7" stroke="#333" stroke-width="1.0" fill="none"/>
<text x="794.1" y="493.59999999999997" font-size="10.5" text-anchor="middle" fill="#8a8a8a" font-style="italic" >3</text>
<line x1="748.6" y1="368" x2="748.6" y2="538.6" stroke="#a2a2a2" stroke-width="0.8" />
<line x1="886.5" y1="368" x2="886.5" y2="538.6" stroke="#a2a2a2" stroke-width="0.8" />
<line x1="756.9" y1="446" x2="756.9" y2="521" stroke="#a2a2a2" stroke-width="0.8" />
<line x1="878.6" y1="446" x2="878.6" y2="521" stroke="#a2a2a2" stroke-width="0.8" />
<line x1="756.9" y1="518.4" x2="878.6" y2="518.4" stroke="#a2a2a2" stroke-width="0.9" />
<path d="M756.90 518.40L763.40 517.05L763.40 519.75Z" fill="#151515"/>
<path d="M878.60 518.40L872.10 519.75L872.10 517.05Z" fill="#151515"/>
<text x="807.5" y="516" font-size="10.4" textLength="19.4" lengthAdjust="spacingAndGlyphs" fill="#777777" font-style="italic" >18.8</text>
<line x1="748.6" y1="537.8" x2="886.5" y2="537.8" stroke="#a2a2a2" stroke-width="0.9" />
<path d="M748.60 537.80L755.10 536.45L755.10 539.15Z" fill="#151515"/>
<path d="M886.50 537.80L880.00 539.15L880.00 536.45Z" fill="#151515"/>
<text x="807.5" y="535.5" font-size="10.4" textLength="19.4" lengthAdjust="spacingAndGlyphs" fill="#777777" font-style="italic" >21.4</text>
<line x1="573.7" y1="317.5" x2="573.7" y2="354.8" stroke="#a2a2a2" stroke-width="0.8" />
<line x1="671.3" y1="317.5" x2="671.3" y2="354.8" stroke="#a2a2a2" stroke-width="0.8" />
<line x1="573.7" y1="319.0" x2="671.3" y2="319.0" stroke="#a2a2a2" stroke-width="0.9" />
<path d="M573.70 319.00L580.20 317.65L580.20 320.35Z" fill="#151515"/>
<path d="M671.30 319.00L664.80 320.35L664.80 317.65Z" fill="#151515"/>
<text x="617.4" y="316.5" font-size="10.4" textLength="10" lengthAdjust="spacingAndGlyphs" fill="#777777" font-style="italic" >15</text>
<line x1="542" y1="330.3" x2="542" y2="380.1" stroke="#a2a2a2" stroke-width="0.8" />
<line x1="542" y1="354.6" x2="573.7" y2="354.6" stroke="#a2a2a2" stroke-width="0.8" />
<path d="M542.00 354.60L540.65 348.10L543.35 348.10Z" fill="#151515"/>
<path d="M542.00 368.00L543.35 374.50L540.65 374.50Z" fill="#151515"/>
<text x="539.7" y="338.9" font-size="10.4" fill="#777777" font-style="italic" transform="rotate(-90 539.7 338.9)" >2</text>
<line x1="695.2" y1="286" x2="695.2" y2="354.6" stroke="#a2a2a2" stroke-width="0.8" />
<line x1="655.5" y1="332.7" x2="697" y2="332.7" stroke="#a2a2a2" stroke-width="0.8" />
<line x1="671.3" y1="354.6" x2="697" y2="354.6" stroke="#a2a2a2" stroke-width="0.8" />
<path d="M695.20 332.90L696.55 339.40L693.85 339.40Z" fill="#151515"/>
<path d="M695.20 354.40L693.85 347.90L696.55 347.90Z" fill="#151515"/>
<text x="692.8" y="323.2" font-size="10.4" textLength="34.4" lengthAdjust="spacingAndGlyphs" fill="#777777" font-style="italic" transform="rotate(-90 692.8 323.2)" >3.4±0.3</text>
<line x1="671.3" y1="367.4" x2="718" y2="367.4" stroke="#a2a2a2" stroke-width="0.8" />
<line x1="688.7" y1="380" x2="688.7" y2="468" stroke="#a2a2a2" stroke-width="0.8" />
<line x1="665.5" y1="382.7" x2="688.7" y2="382.7" stroke="#a2a2a2" stroke-width="0.8" />
<path d="M665.30 382.70L671.80 381.35L671.80 384.05Z" fill="#151515"/>
<path d="M688.70 382.70L682.20 384.05L682.20 381.35Z" fill="#151515"/>
<text x="669.8" y="379.8" font-size="10.4" textLength="13.7" lengthAdjust="spacingAndGlyphs" fill="#777777" font-style="italic" >3.8</text>
<line x1="714.5" y1="367.6" x2="714.5" y2="471" stroke="#a2a2a2" stroke-width="0.9" />
<path d="M714.50 367.60L715.85 374.10L713.15 374.10Z" fill="#151515"/>
<path d="M714.50 471.00L713.15 464.50L715.85 464.50Z" fill="#151515"/>
<line x1="689" y1="471" x2="718" y2="471" stroke="#a2a2a2" stroke-width="0.8" />
<text x="711" y="415.2" font-size="10.4" textLength="10" lengthAdjust="spacingAndGlyphs" fill="#777777" font-style="italic" transform="rotate(-90 711 415.2)" >16</text>
<line x1="689" y1="466.7" x2="708" y2="466.7" stroke="#a2a2a2" stroke-width="0.8" />
<line x1="689" y1="475.3" x2="708" y2="475.3" stroke="#a2a2a2" stroke-width="0.8" />
<line x1="705" y1="436.6" x2="705" y2="466.7" stroke="#a2a2a2" stroke-width="0.8" />
<line x1="705" y1="475.3" x2="705" y2="487" stroke="#a2a2a2" stroke-width="0.8" />
<path d="M705.00 466.70L703.65 460.20L706.35 460.20Z" fill="#151515"/>
<path d="M705.00 475.30L706.35 481.80L703.65 481.80Z" fill="#151515"/>
<text x="701.6" y="451.2" font-size="10.4" textLength="12.2" lengthAdjust="spacingAndGlyphs" fill="#777777" font-style="italic" transform="rotate(-90 701.6 451.2)" >1.2</text>
<circle cx="697.6" cy="428.9" r="6.7" stroke="#333" stroke-width="1.0" fill="none"/>
<text x="701.2" y="428.9" font-size="10.5" text-anchor="middle" fill="#8a8a8a" font-style="italic" transform="rotate(-90 701.2 428.9)" >4</text>
<line x1="580.7" y1="392" x2="580.7" y2="540" stroke="#a2a2a2" stroke-width="0.8" />
<line x1="664.6" y1="392" x2="664.6" y2="540" stroke="#a2a2a2" stroke-width="0.8" />
<line x1="583.2" y1="446" x2="583.2" y2="522" stroke="#a2a2a2" stroke-width="0.8" />
<line x1="662.2" y1="446" x2="662.2" y2="522" stroke="#a2a2a2" stroke-width="0.8" />
<line x1="622.3" y1="478" x2="622.3" y2="504" stroke="#a2a2a2" stroke-width="0.8" />
<line x1="688.9" y1="476" x2="688.9" y2="504" stroke="#a2a2a2" stroke-width="0.8" />
<line x1="622.3" y1="502" x2="688.9" y2="502" stroke="#a2a2a2" stroke-width="0.9" />
<path d="M622.30 502.00L628.80 500.65L628.80 503.35Z" fill="#151515"/>
<path d="M688.90 502.00L682.40 503.35L682.40 500.65Z" fill="#151515"/>
<text x="640.8" y="499.4" font-size="10.4" textLength="18" lengthAdjust="spacingAndGlyphs" fill="#777777" font-style="italic" >10.3</text>
<line x1="583.2" y1="520" x2="662.2" y2="520" stroke="#a2a2a2" stroke-width="0.9" />
<path d="M583.20 520.00L589.70 518.65L589.70 521.35Z" fill="#151515"/>
<path d="M662.20 520.00L655.70 521.35L655.70 518.65Z" fill="#151515"/>
<text x="612.9" y="517.6" font-size="10.4" textLength="18.4" lengthAdjust="spacingAndGlyphs" fill="#777777" font-style="italic" >12.2</text>
<line x1="580.7" y1="537.7" x2="664.6" y2="537.7" stroke="#a2a2a2" stroke-width="0.9" />
<path d="M580.70 537.70L587.20 536.35L587.20 539.05Z" fill="#151515"/>
<path d="M664.60 537.70L658.10 539.05L658.10 536.35Z" fill="#151515"/>
<text x="617.6" y="534.8" font-size="10.4" textLength="10.3" lengthAdjust="spacingAndGlyphs" fill="#777777" font-style="italic" >13</text>
<rect x="573.5" y="354.6" width="97.8" height="12.8" rx="2.2" stroke="#2a2a2a" stroke-width="1.1" fill="none" />
<path d="M589.5 354.6V338.2Q589.5 334.6 593.6 334.2Q622.4 331.6 651.4 334.2Q655.5 334.6 655.5 338.6V354.6" stroke="#2a2a2a" stroke-width="1.2" fill="none" />
<path d="M583.2 367.6V445.2H595.4V438.6H655.1V445.2H662.2V367.6" stroke="#2a2a2a" stroke-width="1.0" fill="none" />
<path d="M580.6 367.6V389.5L583.2 393.5M664.6 367.6V389.5L662.2 393.5" stroke="#2a2a2a" stroke-width="0.9" fill="none" />
<path d="M604.4 367.6V426.9M640.4 367.6V438.6M583.2 426.9H640.4" stroke="#2a2a2a" stroke-width="1.0" fill="none" />
<rect x="604.4" y="367.6" width="36" height="2.6" rx="0" stroke="none" stroke-width="0" fill="#777" />
<rect x="604.4" y="380.2" width="36" height="2.6" rx="0" stroke="none" stroke-width="0" fill="#aaa" />
<rect x="604.4" y="386.9" width="36" height="1.7" rx="0" stroke="none" stroke-width="0" fill="#777" />
<line x1="604.4" y1="373.9" x2="640.4" y2="373.9" stroke="#333" stroke-width="0.9" />
<line x1="604.4" y1="376.4" x2="640.4" y2="376.4" stroke="#333" stroke-width="0.9" />
<line x1="604.4" y1="378.4" x2="640.4" y2="378.4" stroke="#333" stroke-width="0.9" />
<line x1="604.4" y1="380.2" x2="640.4" y2="380.2" stroke="#333" stroke-width="0.9" />
<line x1="604.4" y1="382.8" x2="640.4" y2="382.8" stroke="#333" stroke-width="0.9" />
<line x1="604.4" y1="385.3" x2="640.4" y2="385.3" stroke="#333" stroke-width="0.9" />
<path d="M598.4 445.2L602.2 439.6M602.4 445.2L606.2 439.6M638.8 439.6L642.4 445.2M642.6 439.6L646.4 445.2" stroke="#2a2a2a" stroke-width="0.9" fill="none" />
<rect x="609.2" y="439.3" width="26.2" height="3.8" rx="1" stroke="#2a2a2a" stroke-width="0.9" fill="none" />
<path d="M606.2 445.2H618.4M626 445.2H638.8" stroke="#2a2a2a" stroke-width="0.9" fill="none" />
<path d="M618.4 445.2V463.2Q618.4 475.2 630.4 475.2H686.6Q689.2 475.2 689.2 471Q689.2 466.8 686.6 466.8H629.4Q625.9 466.8 625.9 463.2V445.2" stroke="#2a2a2a" stroke-width="1.0" fill="none" />
<path d="M622.4 322V480" stroke="#999" stroke-width="0.6" fill="none" stroke-dasharray="9 2.5 1.5 2.5"/>
<path d="M613 471H689" stroke="#aaa" stroke-width="0.7" fill="none" stroke-dasharray="6 3"/>
<line x1="24.9" y1="574.9" x2="955.1" y2="574.9" stroke="#000" stroke-width="2.0" />
<line x1="51.5" y1="574.9" x2="51.5" y2="676" stroke="#222" stroke-width="1.2" />
<line x1="164.9" y1="574.9" x2="164.9" y2="676" stroke="#222" stroke-width="1.2" />
<line x1="171.6" y1="574.9" x2="171.6" y2="676" stroke="#222" stroke-width="1.2" />
<line x1="199" y1="574.9" x2="199" y2="676" stroke="#222" stroke-width="1.2" />
<line x1="311.8" y1="574.9" x2="311.8" y2="676" stroke="#222" stroke-width="1.2" />
<line x1="426.4" y1="574.9" x2="426.4" y2="676" stroke="#222" stroke-width="1.2" />
<line x1="669.6" y1="574.9" x2="669.6" y2="676" stroke="#222" stroke-width="1.2" />
<line x1="811.8" y1="574.9" x2="811.8" y2="676" stroke="#222" stroke-width="1.2" />
<line x1="24.9" y1="591.7" x2="164.9" y2="591.7" stroke="#222" stroke-width="1.1" />
<line x1="171.6" y1="591.7" x2="311.8" y2="591.7" stroke="#222" stroke-width="1.1" />
<line x1="24.9" y1="608.9" x2="164.9" y2="608.9" stroke="#222" stroke-width="1.1" />
<line x1="171.6" y1="608.9" x2="311.8" y2="608.9" stroke="#222" stroke-width="1.1" />
<line x1="24.9" y1="625.7" x2="164.9" y2="625.7" stroke="#222" stroke-width="1.1" />
<line x1="171.6" y1="625.7" x2="311.8" y2="625.7" stroke="#222" stroke-width="1.1" />
<line x1="24.9" y1="642.4" x2="164.9" y2="642.4" stroke="#222" stroke-width="1.1" />
<line x1="171.6" y1="642.4" x2="311.8" y2="642.4" stroke="#222" stroke-width="1.1" />
<line x1="24.9" y1="659.7" x2="164.9" y2="659.7" stroke="#222" stroke-width="1.1" />
<line x1="171.6" y1="659.7" x2="311.8" y2="659.7" stroke="#222" stroke-width="1.1" />
<line x1="311.8" y1="592.1" x2="426.4" y2="592.1" stroke="#222" stroke-width="1.1" />
<line x1="369.4" y1="592.1" x2="369.4" y2="676" stroke="#222" stroke-width="1.1" />
<line x1="311.8" y1="608.5" x2="426.4" y2="608.5" stroke="#222" stroke-width="1.1" />
<line x1="311.8" y1="625.5" x2="426.4" y2="625.5" stroke="#222" stroke-width="1.1" />
<line x1="311.8" y1="642.5" x2="426.4" y2="642.5" stroke="#222" stroke-width="1.1" />
<line x1="311.8" y1="659.4" x2="426.4" y2="659.4" stroke="#222" stroke-width="1.1" />
<line x1="426.4" y1="591.6" x2="669.6" y2="591.6" stroke="#222" stroke-width="1.1" />
<line x1="487.5" y1="574.9" x2="487.5" y2="652.3" stroke="#222" stroke-width="1.1" />
<line x1="548.1" y1="574.9" x2="548.1" y2="652.3" stroke="#222" stroke-width="1.1" />
<line x1="608.9" y1="574.9" x2="608.9" y2="652.3" stroke="#222" stroke-width="1.1" />
<line x1="426.4" y1="652.3" x2="669.6" y2="652.3" stroke="#222" stroke-width="1.1" />
<line x1="669.6" y1="591.4" x2="811.8" y2="591.4" stroke="#222" stroke-width="1.1" />
<line x1="669.6" y1="608.7" x2="811.8" y2="608.7" stroke="#222" stroke-width="1.1" />
<line x1="669.6" y1="625.6" x2="811.8" y2="625.6" stroke="#222" stroke-width="1.1" />
<line x1="669.6" y1="642.1" x2="811.8" y2="642.1" stroke="#222" stroke-width="1.1" />
<line x1="764.5" y1="574.9" x2="764.5" y2="625.6" stroke="#222" stroke-width="1.1" />
<line x1="811.8" y1="625.7" x2="955.1" y2="625.7" stroke="#222" stroke-width="1.1" />
<line x1="811.8" y1="642.2" x2="955.1" y2="642.2" stroke="#222" stroke-width="1.1" />
<line x1="914.3" y1="625.7" x2="914.3" y2="676" stroke="#222" stroke-width="1.1" />
<path d="M38.0 576.0L28.25 589.8H47.75Z" stroke="#222" stroke-width="0.9" fill="none" />
<line x1="29.5" y1="590.4" x2="46.5" y2="590.4" stroke="#999" stroke-width="1.4" />
<text x="38.0" y="588.6" font-size="11.2" text-anchor="middle" fill="#222" >5</text>
<path d="M185.3 576.0L175.55 589.8H195.05Z" stroke="#222" stroke-width="0.9" fill="none" />
<line x1="176.8" y1="590.4" x2="193.8" y2="590.4" stroke="#999" stroke-width="1.4" />
<text x="185.3" y="588.6" font-size="11.2" textLength="12" lengthAdjust="spacingAndGlyphs" text-anchor="middle" fill="#222" >10</text>
<path d="M38.0 592.8000000000001L28.25 606.6H47.75Z" stroke="#222" stroke-width="0.9" fill="none" />
<line x1="29.5" y1="607.2" x2="46.5" y2="607.2" stroke="#999" stroke-width="1.4" />
<text x="38.0" y="605.4000000000001" font-size="11.2" text-anchor="middle" fill="#222" >4</text>
<path d="M185.3 592.8000000000001L175.55 606.6H195.05Z" stroke="#222" stroke-width="0.9" fill="none" />
<line x1="176.8" y1="607.2" x2="193.8" y2="607.2" stroke="#999" stroke-width="1.4" />
<text x="185.3" y="605.4000000000001" font-size="11.2" text-anchor="middle" fill="#222" >9</text>
<path d="M38.0 610.0L28.25 623.8H47.75Z" stroke="#222" stroke-width="0.9" fill="none" />
<line x1="29.5" y1="624.4" x2="46.5" y2="624.4" stroke="#999" stroke-width="1.4" />
<text x="38.0" y="622.6" font-size="11.2" text-anchor="middle" fill="#222" >3</text>
<path d="M185.3 610.0L175.55 623.8H195.05Z" stroke="#222" stroke-width="0.9" fill="none" />
<line x1="176.8" y1="624.4" x2="193.8" y2="624.4" stroke="#999" stroke-width="1.4" />
<text x="185.3" y="622.6" font-size="11.2" text-anchor="middle" fill="#222" >8</text>
<path d="M38.0 626.8000000000001L28.25 640.6H47.75Z" stroke="#222" stroke-width="0.9" fill="none" />
<line x1="29.5" y1="641.2" x2="46.5" y2="641.2" stroke="#999" stroke-width="1.4" />
<text x="38.0" y="639.4000000000001" font-size="11.2" text-anchor="middle" fill="#222" >2</text>
<path d="M185.3 626.8000000000001L175.55 640.6H195.05Z" stroke="#222" stroke-width="0.9" fill="none" />
<line x1="176.8" y1="641.2" x2="193.8" y2="641.2" stroke="#999" stroke-width="1.4" />
<text x="185.3" y="639.4000000000001" font-size="11.2" text-anchor="middle" fill="#222" >7</text>
<path d="M38.0 643.5L28.25 657.3H47.75Z" stroke="#222" stroke-width="0.9" fill="none" />
<line x1="29.5" y1="657.9" x2="46.5" y2="657.9" stroke="#999" stroke-width="1.4" />
<text x="38.0" y="656.1" font-size="11.2" text-anchor="middle" fill="#222" >1</text>
<path d="M185.3 643.5L175.55 657.3H195.05Z" stroke="#222" stroke-width="0.9" fill="none" />
<line x1="176.8" y1="657.9" x2="193.8" y2="657.9" stroke="#999" stroke-width="1.4" />
<text x="185.3" y="656.1" font-size="11.2" text-anchor="middle" fill="#222" >6</text>
<text x="38.4" y="672.1" font-size="11.5" textLength="15.3" lengthAdjust="spacingAndGlyphs" text-anchor="middle" >NO</text>
<text x="101.1" y="672.1" font-size="11.5" textLength="70.4" lengthAdjust="spacingAndGlyphs" text-anchor="middle" >DESCRIPTION</text>
<text x="185.3" y="672.1" font-size="11.5" textLength="15.4" lengthAdjust="spacingAndGlyphs" text-anchor="middle" >NO</text>
<text x="248" y="672.1" font-size="11.5" textLength="70.4" lengthAdjust="spacingAndGlyphs" text-anchor="middle" >DESCRIPTION</text>
<text x="369.6" y="588.1" font-size="13" textLength="104.9" lengthAdjust="spacingAndGlyphs" text-anchor="middle" >DIMENSIONAL  TOLERANCES</text>
<text x="340.2" y="605.5" font-size="11" textLength="33.2" lengthAdjust="spacingAndGlyphs" text-anchor="middle" >RANGE</text>
<text x="396.7" y="605" font-size="11" textLength="39.9" lengthAdjust="spacingAndGlyphs" text-anchor="middle" >TOLERANCE</text>
<text x="332.5" y="620.2" font-size="8.6" text-anchor="middle" >X</text>
<text x="336.3" y="637.3" font-size="8.6" textLength="14.2" lengthAdjust="spacingAndGlyphs" text-anchor="middle" >X.X</text>
<text x="339" y="654.3" font-size="8.6" textLength="19.9" lengthAdjust="spacingAndGlyphs" text-anchor="middle" >X.XX</text>
<text x="342.4" y="670.9" font-size="9.6" textLength="34.4" lengthAdjust="spacingAndGlyphs" text-anchor="middle" >ANGLES</text>
<text x="395.4" y="622" font-size="11.2" textLength="23.6" lengthAdjust="spacingAndGlyphs" text-anchor="middle" >±0.30</text>
<text x="395.4" y="638.9" font-size="11.2" textLength="23.6" lengthAdjust="spacingAndGlyphs" text-anchor="middle" >±0.20</text>
<text x="395.4" y="656" font-size="11.2" textLength="23.6" lengthAdjust="spacingAndGlyphs" text-anchor="middle" >±0.10</text>
<text x="391.5" y="671.3" font-size="11.2" textLength="13.5" lengthAdjust="spacingAndGlyphs" text-anchor="middle" >±1°</text>
<text x="457.3" y="588.6" font-size="10.2" textLength="53.2" lengthAdjust="spacingAndGlyphs" text-anchor="middle" >APPROVED</text>
<text x="517.4" y="588.6" font-size="10.2" textLength="46.5" lengthAdjust="spacingAndGlyphs" text-anchor="middle" >CHECKED</text>
<text x="581.8" y="588.6" font-size="10.2" textLength="35.6" lengthAdjust="spacingAndGlyphs" text-anchor="middle" >DESIGN</text>
<text x="640.9" y="588.6" font-size="10.2" textLength="34" lengthAdjust="spacingAndGlyphs" text-anchor="middle" >DRAWN</text>
<text x="635.9" y="616" font-size="15" textLength="30.4" lengthAdjust="spacingAndGlyphs" text-anchor="middle" >LMC</text>
<text x="635.1" y="630.7" font-size="7.3" textLength="34.2" lengthAdjust="spacingAndGlyphs" text-anchor="middle" font-weight="bold" >2020.11.14</text>
<text x="436.2" y="669.9" font-size="19.5" stroke="#111" stroke-width="0.55" textLength="34.8" lengthAdjust="spacingAndGlyphs" font-style="italic" font-family="Liberation Serif" >LEGION</text>
<text x="477.3" y="669.9" font-size="19.5" stroke="#111" stroke-width="0.55" textLength="58.5" lengthAdjust="spacingAndGlyphs" font-style="italic" font-family="Liberation Serif" >ELECTRONIC</text>
<text x="542.0" y="669.9" font-size="19.5" stroke="#111" stroke-width="0.55" textLength="7.5" lengthAdjust="spacingAndGlyphs" font-style="italic" font-family="Liberation Serif" >&amp;</text>
<text x="555.7" y="669.9" font-size="19.5" stroke="#111" stroke-width="0.55" textLength="53.5" lengthAdjust="spacingAndGlyphs" font-style="italic" font-family="Liberation Serif" >HARDWARE</text>
<text x="614.7" y="669.9" font-size="19.5" stroke="#111" stroke-width="0.55" textLength="16.8" lengthAdjust="spacingAndGlyphs" font-style="italic" font-family="Liberation Serif" >CO.,</text>
<text x="639.1" y="669.9" font-size="19.5" stroke="#111" stroke-width="0.55" textLength="19.9" lengthAdjust="spacingAndGlyphs" font-style="italic" font-family="Liberation Serif" >LTD.</text>
<text x="715.4" y="588.3" font-size="12.6" textLength="87.9" lengthAdjust="spacingAndGlyphs" text-anchor="middle" >ALL SIZE ARE IN</text>
<text x="788" y="588.3" font-size="12.6" textLength="18.2" lengthAdjust="spacingAndGlyphs" text-anchor="middle" >MM</text>
<text x="715.5" y="605.1" font-size="12.8" textLength="39.2" lengthAdjust="spacingAndGlyphs" text-anchor="middle" >SCALE</text>
<text x="787" y="605.6" font-size="10" textLength="13.9" lengthAdjust="spacingAndGlyphs" text-anchor="middle" >NO</text>
<text x="716" y="622.6" font-size="12.8" textLength="36.7" lengthAdjust="spacingAndGlyphs" text-anchor="middle" >MAT’L</text>
<text x="786.6" y="623.6" font-size="10" textLength="14.7" lengthAdjust="spacingAndGlyphs" text-anchor="middle" >***</text>
<text x="742.9" y="638.2" font-size="12.8" textLength="90.6" lengthAdjust="spacingAndGlyphs" text-anchor="middle" >MATERIAL  NO.</text>
<text x="738.4" y="661.8" font-size="12.8" textLength="129" lengthAdjust="spacingAndGlyphs" text-anchor="middle" >SS11–BBIWJ–R20–R</text>
<text x="864.4" y="639.4" font-size="13.4" textLength="94.7" lengthAdjust="spacingAndGlyphs" text-anchor="middle" >DRAWING  NO.</text>
<text x="934.2" y="639.4" font-size="13.4" textLength="27.3" lengthAdjust="spacingAndGlyphs" text-anchor="middle" >REV.</text>
<text x="858.8" y="664.4" font-size="15" textLength="75.8" lengthAdjust="spacingAndGlyphs" text-anchor="middle" >WIF120112</text>
<text x="934.7" y="664.4" font-size="15" textLength="19.6" lengthAdjust="spacingAndGlyphs" text-anchor="middle" >A0</text>
<circle cx="847.8" cy="600.7" r="11.7" stroke="#222" stroke-width="1.1" fill="none"/>
<circle cx="847.8" cy="600.7" r="7.5" stroke="#222" stroke-width="1.1" fill="none"/>
<line x1="847.8" y1="583" x2="847.8" y2="617.3" stroke="#222" stroke-width="1.1" />
<line x1="830.2" y1="600.7" x2="927.7" y2="600.7" stroke="#222" stroke-width="1.1" />
<path d="M875.9 594.5L917.6 589.3V613.3L875.9 608.4Z" stroke="#222" stroke-width="1.1" fill="none" />
</svg>
</body></html>
